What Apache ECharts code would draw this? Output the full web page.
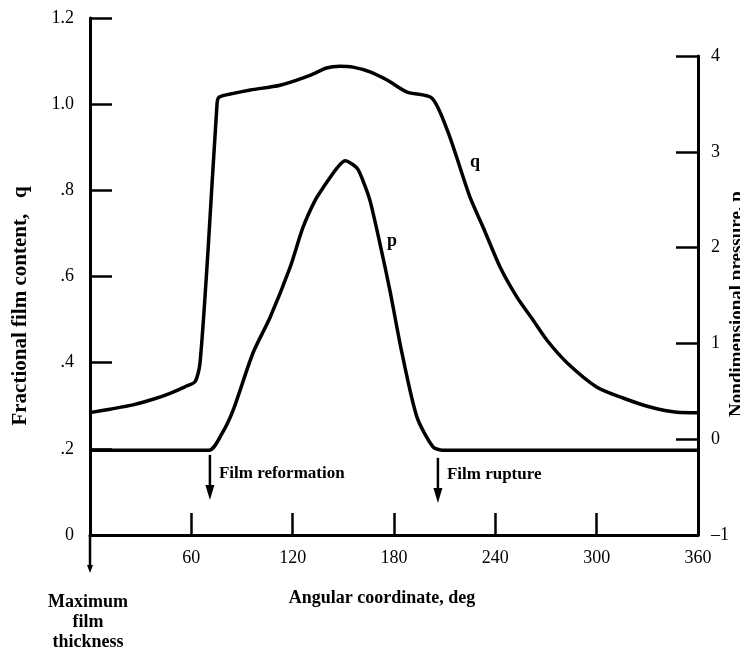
<!DOCTYPE html>
<html>
<head>
<meta charset="utf-8">
<script src="https://cdn.jsdelivr.net/npm/echarts@6/dist/echarts.min.js"></script>
<style>
html, body { margin: 0; padding: 0; background: #fff; }
#main { width: 740px; height: 649px; }
</style>
</head>
<body>
<div id="main"></div>
<script>
// q 曲线：角坐标(deg) 与 膜含量
var qAngle = [0, 11.8, 25.5, 37.3, 47.4, 56.2, 62.2, 65.1, 69.9, 75.2, 76.4, 85, 95, 112.5, 130.3, 140, 148, 155.7, 165.8, 175.9, 187.7, 202.5, 212, 225, 232.7, 242.8, 252.8, 262.3, 270.6, 282.4, 300.2, 315.6, 331.6, 347.6, 360];
var qValue = [0.284, 0.292, 0.302, 0.315, 0.329, 0.344, 0.356, 0.398, 0.661, 1.0, 1.016, 1.025, 1.033, 1.044, 1.067, 1.084, 1.088, 1.086, 1.075, 1.056, 1.028, 1.014, 0.935, 0.784, 0.715, 0.622, 0.552, 0.499, 0.452, 0.400, 0.343, 0.318, 0.297, 0.285, 0.284];

// p 曲线：角坐标(deg) 与 无量纲压力
var pAngle = [0, 70.5, 78.2, 84.7, 96.5, 106.6, 118.4, 126.1, 133.2, 138, 146.2, 151, 158.1, 161.6, 165.8, 171.7, 177.6, 184.7, 193.6, 203.1, 209, 360];
var pValue = [-0.115, -0.115, 0.06, 0.30, 0.90, 1.27, 1.79, 2.21, 2.49, 2.625, 2.83, 2.906, 2.83, 2.70, 2.49, 2.04, 1.55, 0.90, 0.23, -0.08, -0.115, -0.115];

// 刻度标签
var xTicks = {0: '', 60: '60', 120: '120', 180: '180', 240: '240', 300: '300', 360: '360'};
var qTicks = {0: '0', 0.2: '.2', 0.4: '.4', 0.6: '.6', 0.8: '.8', 1: '1.0', 1.2: '1.2'};
var pTicks = {'-1': '\u20131', 0: '0', 1: '1', 2: '2', 3: '3', 4: '4'};

var qData = qAngle.map(function (a, i) { return [a, qValue[i]]; });
var pData = pAngle.map(function (a, i) { return [a, pValue[i]]; });

var FONT = 'Liberation Serif';
var axisLine = { show: true, onZero: false, lineStyle: { color: '#000', width: 3 } };
var axisTick = { show: true, inside: true, length: 22, lineStyle: { color: '#000', width: 2.5 } };
var label = { color: '#000', fontFamily: FONT, fontSize: 18 };

var myChart = echarts.init(document.getElementById('main'));

myChart.setOption({
    animation: false,
    backgroundColor: '#fff',
    grid: [
        { left: 90, right: 42, top: 18, bottom: 114 },
        { left: 90, right: 42, top: 56, bottom: 114 }
    ],
    xAxis: [{
        type: 'value', gridIndex: 0, min: 0, max: 360, interval: 60,
        axisLine: axisLine, axisTick: axisTick, splitLine: { show: false },
        axisLabel: Object.assign({ margin: 14, formatter: function (v) { return xTicks[v]; } }, label)
    }, {
        type: 'value', gridIndex: 1, min: 0, max: 360, show: false
    }],
    yAxis: [{
        type: 'value', gridIndex: 0, min: 0, max: 1.2, interval: 0.2,
        axisLine: axisLine, axisTick: axisTick, splitLine: { show: false },
        axisLabel: Object.assign({ margin: 16, formatter: function (v) { return qTicks[Math.round(v * 10) / 10]; } }, label)
    }, {
        type: 'value', gridIndex: 1, position: 'right', min: -1, max: 4, interval: 1,
        axisLine: axisLine, axisTick: axisTick, splitLine: { show: false },
        axisLabel: Object.assign({ margin: 13, formatter: function (v) { return pTicks[v]; } }, label)
    }],
    series: [{
        name: 'q', type: 'line', xAxisIndex: 0, yAxisIndex: 0, data: qData,
        symbol: 'none', smooth: 0.25, lineStyle: { color: '#000', width: 3.5, join: 'round' }
    }, {
        name: 'p', type: 'line', xAxisIndex: 1, yAxisIndex: 1, data: pData,
        symbol: 'none', smooth: 0.25, lineStyle: { color: '#000', width: 3.5, join: 'round' }
    }]
});

// 注释：箭头与文字
function px(a, v) { return myChart.convertToPixel({ gridIndex: 0 }, [a, v]); }
function arrow(x, y1, y2) {
    return [{
        type: 'line', shape: { x1: x, y1: y1, x2: x, y2: y2 - 10 },
        style: { stroke: '#000', lineWidth: 2.5 }
    }, {
        type: 'polygon', shape: { points: [[x - 4.5, y2 - 15], [x + 4.5, y2 - 15], [x, y2]] },
        style: { fill: '#000' }
    }];
}
function txt(x, y, s, opt) {
    return {
        type: 'text', x: x, y: y, rotation: opt && opt.rot || 0,
        style: {
            text: s, fill: '#000', fontFamily: FONT,
            fontSize: opt && opt.size || 16, fontWeight: opt && opt.bold ? 'bold' : 'normal',
            textAlign: opt && opt.align || 'left', textVerticalAlign: 'middle', lineHeight: 20
        }
    };
}

var a1 = px(71, 0.186), a1b = px(71, 0.081);
var a2 = px(206, 0.179), a2b = px(206, 0.074);
var o = px(0, 0);
var qL = px(228, 0.865);
var pL = myChart.convertToPixel({ gridIndex: 1 }, [178.8, 2.07]);

var g = [];
g = g.concat(arrow(a1[0], a1[1], a1b[1]));
g = g.concat(arrow(a2[0], a2[1], a2b[1]));
g.push(txt(a1[0] + 9, a1[1] + 19, 'Film reformation', { size: 17, bold: true }));
g.push(txt(a2[0] + 9, a2[1] + 17, 'Film rupture', { size: 17, bold: true }));
g.push({ type: 'line', shape: { x1: o[0], y1: o[1], x2: o[0], y2: o[1] + 32 }, style: { stroke: '#000', lineWidth: 2.5 } });
g.push({ type: 'polygon', shape: { points: [[o[0] - 3, o[1] + 30], [o[0] + 3, o[1] + 30], [o[0], o[1] + 38]] }, style: { fill: '#000' } });
g.push(txt(o[0] - 2, 622, 'Maximum\nfilm\nthickness', { bold: true, align: 'center', size: 18 }));
g.push(txt(382, 598, 'Angular coordinate, deg', { bold: true, align: 'center', size: 18 }));
g.push(txt(21, 306, 'Fractional film content,   q', { bold: true, align: 'center', size: 21, rot: Math.PI / 2 }));
g.push(txt(737, 304, 'Nondimensional pressure, p', { bold: true, align: 'center', size: 19, rot: Math.PI / 2 }));
g.push(txt(qL[0], qL[1], 'q', { bold: true, align: 'center', size: 18 }));
g.push(txt(pL[0], pL[1], 'p', { bold: true, align: 'center', size: 18 }));

myChart.setOption({ graphic: g });
</script>
</body>
</html>
